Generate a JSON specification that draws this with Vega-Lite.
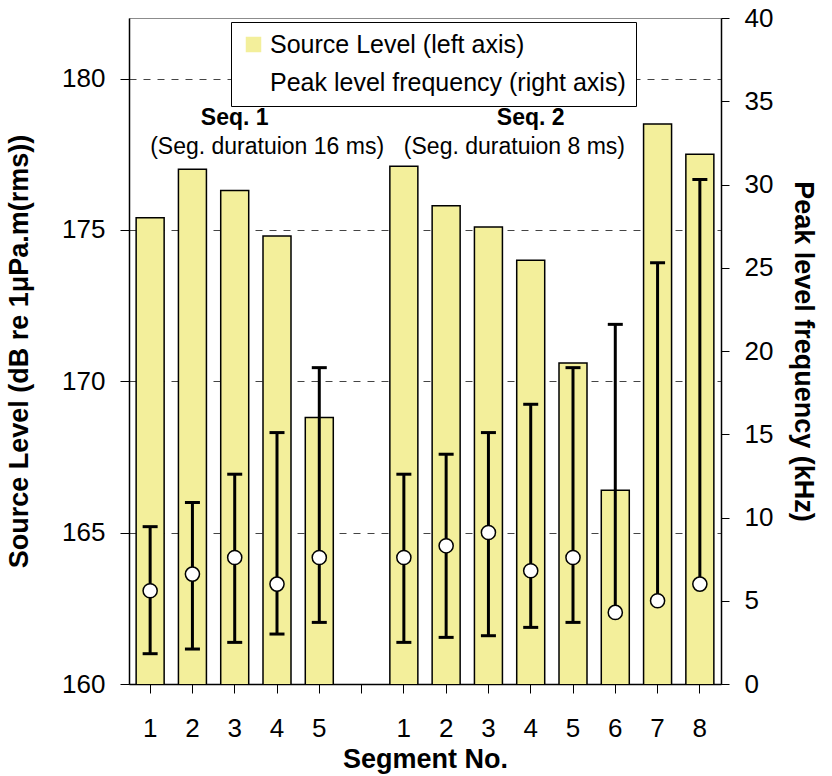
{
  "$schema": "https://vega.github.io/schema/vega-lite/v6.json",
  "width": 592,
  "height": 666,
  "background": "white",
  "config": {
    "font": "Liberation Sans",
    "view": {"stroke": "#8c8c8c"},
    "axis": {"labelColor": "black", "titleColor": "black", "tickColor": "black", "domainColor": "black"}
  },
  "data": {
    "values": [
      {"seg": "1", "sl": 175.4, "f": 5.6, "hi": 9.45, "bot": 1.82, "lo": 1.82, "series": "Peak level frequency (right axis)"},
      {"seg": "2", "sl": 177.0, "f": 6.6, "hi": 10.9, "bot": 2.1, "lo": 2.1, "series": "Peak level frequency (right axis)"},
      {"seg": "3", "sl": 176.3, "f": 7.6, "hi": 12.6, "bot": 2.5, "lo": 2.5, "series": "Peak level frequency (right axis)"},
      {"seg": "4", "sl": 174.8, "f": 6.0, "hi": 15.1, "bot": 3.0, "lo": 3.0, "series": "Peak level frequency (right axis)"},
      {"seg": "5", "sl": 168.8, "f": 7.6, "hi": 19.0, "bot": 3.7, "lo": 3.7, "series": "Peak level frequency (right axis)"},
      {"seg": " 1 ", "sl": 177.1, "f": 7.6, "hi": 12.6, "bot": 2.5, "lo": 2.5, "series": "Peak level frequency (right axis)"},
      {"seg": " 2 ", "sl": 175.8, "f": 8.3, "hi": 13.8, "bot": 2.8, "lo": 2.8, "series": "Peak level frequency (right axis)"},
      {"seg": " 3 ", "sl": 175.1, "f": 9.1, "hi": 15.1, "bot": 2.9, "lo": 2.9, "series": "Peak level frequency (right axis)"},
      {"seg": " 4 ", "sl": 174.0, "f": 6.8, "hi": 16.8, "bot": 3.4, "lo": 3.4, "series": "Peak level frequency (right axis)"},
      {"seg": " 5 ", "sl": 170.6, "f": 7.6, "hi": 19.0, "bot": 3.7, "lo": 3.7, "series": "Peak level frequency (right axis)"},
      {"seg": " 6 ", "sl": 166.4, "f": 4.3, "hi": 21.6, "bot": 4.3, "lo": null, "series": "Peak level frequency (right axis)"},
      {"seg": " 7 ", "sl": 178.5, "f": 5.0, "hi": 25.3, "bot": 5.0, "lo": null, "series": "Peak level frequency (right axis)"},
      {"seg": " 8 ", "sl": 177.5, "f": 6.0, "hi": 30.3, "bot": 6.0, "lo": null, "series": "Peak level frequency (right axis)"}
    ]
  },
  "encoding": {
    "x": {
      "field": "seg", "type": "ordinal",
      "scale": {"domain": ["1", "2", "3", "4", "5", " ", " 1 ", " 2 ", " 3 ", " 4 ", " 5 ", " 6 ", " 7 ", " 8 "], "paddingInner": 0, "paddingOuter": 0},
      "axis": {
        "orient": "bottom", "tickSize": 9, "tickWidth": 1, "domainWidth": 1.5,
        "labelFontSize": 26, "labelPadding": 22, "labelAngle": 0,
        "title": "Segment No.", "titleFontSize": 27, "titleFontWeight": "bold", "titlePadding": 5
      }
    }
  },
  "resolve": {"scale": {"y": "independent"}, "axis": {"y": "independent"}},
  "layer": [
    {
      "mark": {"type": "bar", "color": "#f3ef9b", "stroke": "black", "strokeOpacity": 1, "strokeWidth": 1.5, "opacity": 1, "width": 28, "clip": true},
      "encoding": {
        "y": {
          "field": "sl", "type": "quantitative",
          "scale": {"domain": [160, 182], "nice": false, "zero": false},
          "axis": {
            "orient": "left", "values": [160, 165, 170, 175, 180], "tickSize": 9, "tickWidth": 1, "domainWidth": 1.5,
            "labelFontSize": 26, "labelPadding": 15,
            "grid": true, "gridDash": [7, 7], "gridColor": "#444444", "gridWidth": 1,
            "title": "Source Level (dB re 1μPa.m(rms))", "titleFontSize": 27, "titleFontWeight": "bold", "titlePadding": 28
          }
        }
      }
    },
    {
      "data": {"values": [
        {"seg": "3", "y": 178.69, "label": "Seq. 1"},
        {"seg": " 4 ", "y": 178.69, "label": "Seq. 2"}
      ]},
      "mark": {"type": "text", "fontSize": 23, "fontWeight": "bold", "align": "center", "baseline": "middle", "color": "black"},
      "encoding": {
        "y": {"field": "y", "type": "quantitative", "scale": {"domain": [160, 182], "nice": false, "zero": false}, "axis": null},
        "text": {"field": "label"}
      }
    },
    {
      "data": {"values": [
        {"seg": "1", "y": 177.74, "label": "(Seg. duratuion 16 ms)"},
        {"seg": " 1 ", "y": 177.74, "label": "(Seg. duratuion 8 ms)"}
      ]},
      "mark": {"type": "text", "fontSize": 23, "align": "left", "baseline": "middle", "color": "black"},
      "encoding": {
        "y": {"field": "y", "type": "quantitative", "scale": {"domain": [160, 182], "nice": false, "zero": false}, "axis": null},
        "text": {"field": "label"}
      }
    },
    {
      "mark": {"type": "rule", "strokeWidth": 3, "color": "black", "opacity": 1},
      "encoding": {
        "y": {"field": "hi", "type": "quantitative", "scale": {"domain": [0, 40], "nice": false, "zero": false}, "axis": null},
        "y2": {"field": "bot"}
      }
    },
    {
      "mark": {"type": "tick", "thickness": 3, "size": 15, "color": "black", "opacity": 1},
      "encoding": {
        "y": {"field": "hi", "type": "quantitative", "scale": {"domain": [0, 40], "nice": false, "zero": false}, "axis": null}
      }
    },
    {
      "transform": [{"filter": "isValid(datum.lo)"}],
      "mark": {"type": "tick", "thickness": 3, "size": 15, "color": "black", "opacity": 1},
      "encoding": {
        "y": {"field": "lo", "type": "quantitative", "scale": {"domain": [0, 40], "nice": false, "zero": false}, "axis": null}
      }
    },
    {
      "mark": {"type": "point", "filled": true, "stroke": "black", "strokeWidth": 1.5, "size": 200, "opacity": 1},
      "encoding": {
        "y": {
          "field": "f", "type": "quantitative", "scale": {"domain": [0, 40], "nice": false, "zero": false},
          "axis": {
            "orient": "right", "values": [0, 5, 10, 15, 20, 25, 30, 35, 40], "tickSize": 8, "tickWidth": 1, "domainWidth": 1.5,
            "labelFontSize": 26, "labelPadding": 15, "grid": false,
            "title": "Peak level frequency (kHz)", "titleFontSize": 27, "titleFontWeight": "bold", "titlePadding": 16
          }
        },
        "fill": {
          "field": "series", "type": "nominal",
          "scale": {"domain": ["Source Level (left axis)", "Peak level frequency (right axis)"], "range": ["#f3ef9b", "white"]},
          "legend": {"title": null, "orient": "none", "legendX": 102, "legendY": 4, "strokeColor": "black", "fillColor": "white", "padding": 10, "labelFontSize": 25, "symbolSize": 240, "symbolStrokeColor": "black", "symbolStrokeWidth": 1.5, "rowPadding": 12, "labelLimit": 600,
            "encode": {"symbols": {"update": {"stroke": {"value": "black"}, "strokeWidth": {"value": 1.5}}}}}
        },
        "shape": {
          "field": "series", "type": "nominal",
          "scale": {"domain": ["Source Level (left axis)", "Peak level frequency (right axis)"], "range": ["square", "circle"]},
          "legend": {"title": null, "orient": "none", "legendX": 102, "legendY": 4, "strokeColor": "black", "fillColor": "white", "padding": 10, "labelFontSize": 25, "symbolSize": 240, "symbolStrokeColor": "black", "symbolStrokeWidth": 1.5, "rowPadding": 12, "labelLimit": 600,
            "encode": {"symbols": {"update": {"stroke": {"value": "black"}, "strokeWidth": {"value": 1.5}}}}}
        }
      }
    }
  ]
}
